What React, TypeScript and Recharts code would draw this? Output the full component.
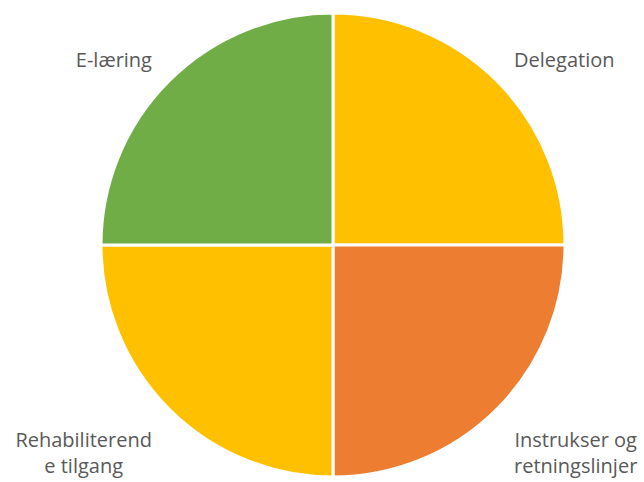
import React from "react";
import { Cell, Pie, PieChart } from "recharts";

const categories = [
  "Delegation",
  "Instrukser og retningslinjer",
  "Rehabiliterende tilgang",
  "E-læring",
];
const shares = [25, 25, 25, 25];
// how Excel wrapped each label
const labelLines = [
  ["Delegation"],
  ["Instrukser og", "retningslinjer"],
  ["Rehabiliterend", "e tilgang"],
  ["E-læring"],
];
const sliceColors = ["#FFC000", "#ED7D31", "#FFC000", "#70AD47"];

const data = categories.map((name, i) => ({ name, value: shares[i] }));

const RADIAN = Math.PI / 180;
const FONT = 20;
const LINE = 26;
const FONT_FAMILY = "'Open Sans', sans-serif";

let ctx: CanvasRenderingContext2D | null = null;
function textWidth(s: string) {
  if (!ctx) ctx = document.createElement("canvas").getContext("2d");
  if (!ctx) return s.length * FONT * 0.52;
  ctx.font = `${FONT}px ${FONT_FAMILY}`;
  return ctx.measureText(s).width;
}

function renderLabel(props: any) {
  const { cx, cy, midAngle, outerRadius, index } = props;
  const lines = labelLines[index];
  const r = outerRadius + 24;
  const ax = cx + r * Math.cos(-midAngle * RADIAN);
  const ay = cy + r * Math.sin(-midAngle * RADIAN);
  const side = ax > cx ? 1 : -1;
  const below = ay > cy;
  const half = Math.max(...lines.map(textWidth)) / 2;
  const x = ax + side * half;
  const blockH = lines.length * LINE;
  const top = below ? ay + 2 : ay - blockH + 10;
  return (
    <text
      x={x}
      y={top}
      textAnchor="middle"
      fill="#595959"
      fontSize={FONT}
      fontFamily={FONT_FAMILY}
    >
      {lines.map((l, i) => (
        <tspan key={i} x={x} dy={i === 0 ? LINE * 0.72 : LINE}>
          {l}
        </tspan>
      ))}
    </text>
  );
}

export default function App() {
  return (
    <div style={{ position: "absolute", left: 0, top: 0 }}>
      <PieChart
        width={644}
        height={482}
        margin={{ top: 0, right: 0, bottom: 0, left: 0 }}
      >
        <Pie
          data={data}
          dataKey="value"
          nameKey="name"
          cx={333}
          cy={245}
          outerRadius={232}
          startAngle={90}
          endAngle={-270}
          stroke="#FFFFFF"
          strokeWidth={3}
          label={renderLabel}
          labelLine={false}
          isAnimationActive={false}
        >
          {data.map((d, i) => (
            <Cell key={d.name} fill={sliceColors[i]} />
          ))}
        </Pie>
      </PieChart>
    </div>
  );
}
